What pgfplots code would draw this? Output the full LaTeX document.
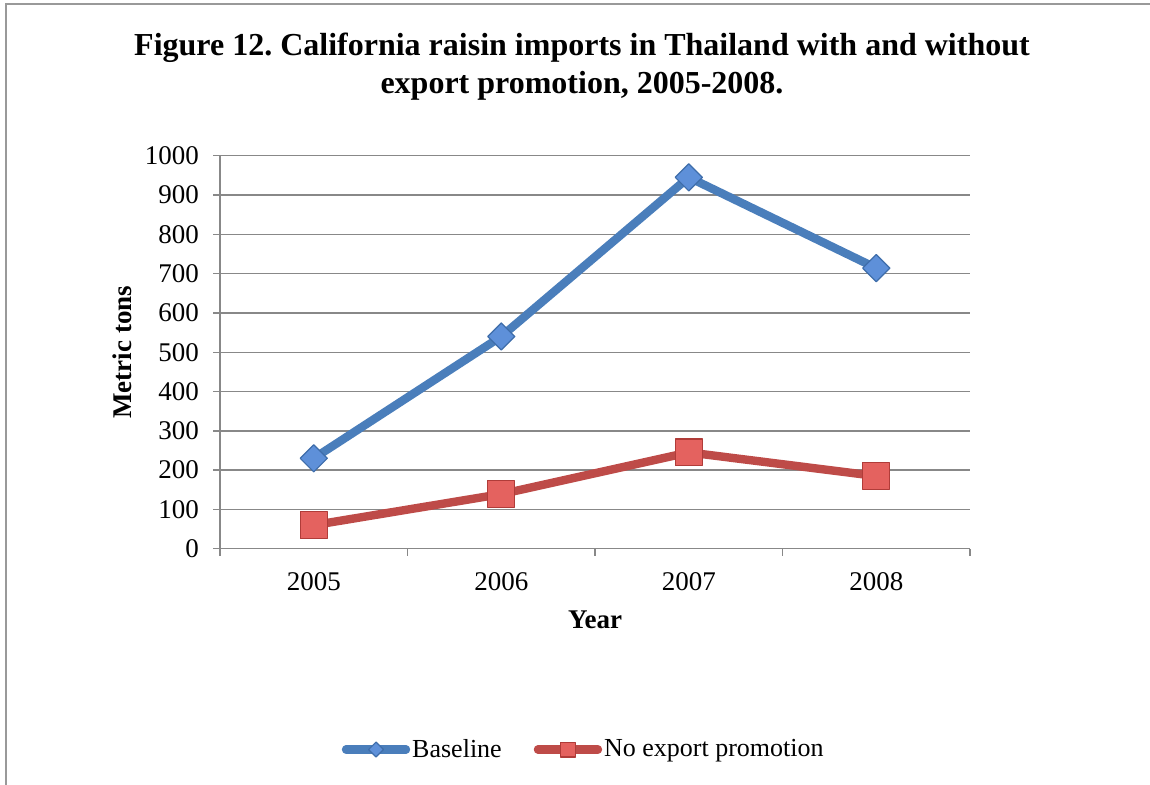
\documentclass[border=0pt]{standalone}
\usepackage{pgfplots}
\pgfplotsset{compat=1.18}
\usepackage{fontspec}
\setmainfont{Liberation Serif}
\frenchspacing

\definecolor{baseblue}{HTML}{4A7EBB}
\definecolor{basefill}{HTML}{5E90D9}
\definecolor{baseedge}{HTML}{3E6DAA}
\definecolor{noprored}{HTML}{BE4B48}
\definecolor{noprofill}{HTML}{E4625F}
\definecolor{noproedge}{HTML}{B03C39}
\definecolor{gridgray}{HTML}{888888}
\definecolor{framegray}{HTML}{999999}

\begin{document}
\begin{tikzpicture}
\useasboundingbox (0,0) rectangle (575pt,392pt);
% frame around the figure
\draw[framegray, line width=1pt] (3pt,-1pt) -- (3pt,390pt) -- (576pt,390pt);
% title
\node[font=\bfseries\fontsize{16}{19}\selectfont, align=center] at (291pt,358.5pt)
  {Figure 12. California raisin imports in Thailand with and without\\export promotion, 2005-2008.};
\begin{axis}[
  at={(110pt,117.65pt)}, anchor=south west,
  scale only axis, width=375pt, height=196.5pt,
  xmin=2004.5, xmax=2008.5, ymin=0, ymax=1000,
  axis x line*=bottom, axis y line*=left,
  axis line style={gridgray, line width=0.7pt},
  tick style={gridgray, line width=0.7pt},
  tick align=outside, major tick length=3.5pt,
  xtick={2004.5,2005.5,2006.5,2007.5,2008.5}, xticklabels={,,,,},
  extra x ticks={2005,2006,2007,2008},
  extra x tick labels={2005,2006,2007,2008},
  extra x tick style={major tick length=0pt, grid=none},
  ytick={0,100,200,300,400,500,600,700,800,900,1000},
  ymajorgrids, major grid style={gridgray, line width=0.7pt},
  /pgf/number format/assume math mode=true,
  /pgf/number format/1000 sep={},
  tick label style={font=\fontsize{13.5}{15}\selectfont},
  xticklabel style={yshift=-8.5pt},
  yticklabel style={xshift=-3.5pt},
  xlabel={Year}, ylabel={Metric tons},
  every axis x label/.style={at={(axis description cs:0.5,-0.181)}, anchor=center,
    font=\bfseries\fontsize{13.5}{15}\selectfont},
  every axis y label/.style={at={(axis description cs:-0.13,0.5)}, rotate=90, anchor=center,
    font=\bfseries\fontsize{13.5}{15}\selectfont},
  legend style={at={(axis description cs:0.485,-0.511)}, anchor=center,
    draw=none, fill=none, legend columns=2,
    font=\fontsize{13}{15}\selectfont,
    /tikz/every even column/.append style={column sep=15pt},
    nodes={inner sep=1pt}},
  legend cell align=left,
  legend image code/.code={
    \draw[mark repeat=2, mark phase=2, line cap=round,
          /tikz/every mark/.append style={scale=0.55}]
      plot coordinates {(0pt,0pt) (15pt,0pt) (30pt,0pt)};},
]
\addplot[baseblue, line width=4.2pt, line join=round,
  mark=square*, mark size=4.8pt,
  mark options={solid, rotate=45, fill=basefill, draw=baseedge, line width=0.6pt}]
  coordinates {(2005,230) (2006,540) (2007,945) (2008,714)};
\addlegendentry{Baseline}
\addplot[noprored, line width=4.2pt, line join=round,
  mark=square*, mark size=6.7pt,
  mark options={solid, fill=noprofill, draw=noproedge, line width=0.6pt}]
  coordinates {(2005,60) (2006,139) (2007,245) (2008,185)};
\addlegendentry{No export promotion}
\end{axis}
\end{tikzpicture}
\end{document}
